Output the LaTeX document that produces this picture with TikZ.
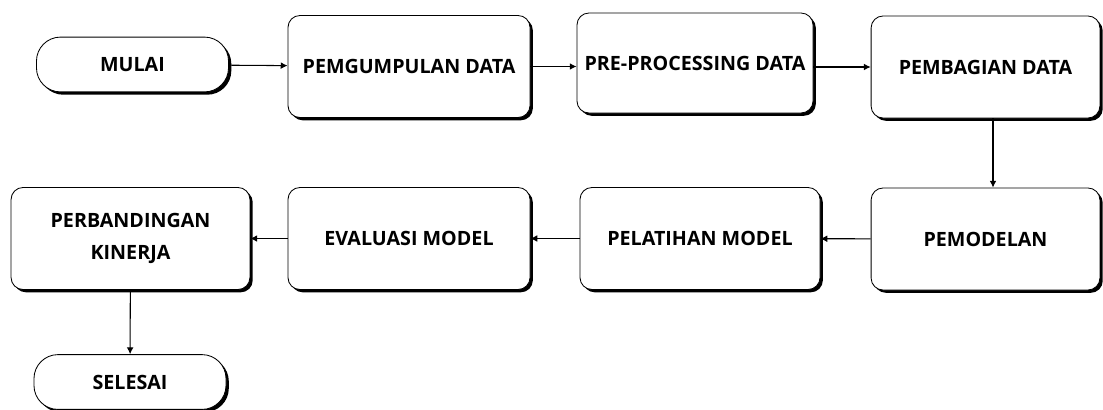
\documentclass[tikz,border=0pt]{standalone}
\usepackage{fontspec}
\setmainfont{Open Sans}
\usepackage{tikz}
\usetikzlibrary{
    shapes.misc,
    shadows,arrows.meta
}

\begin{document}
\begin{tikzpicture}[x=0.025cm, y=-0.025cm,
        prosesbox/.style={draw=black, line width=0.6pt, fill=white, rounded corners=0.3cm,
            minimum width=#1, minimum height=2.55cm, align=center,
            font=\fontsize{14}{23}\selectfont\bfseries,
            drop shadow={shadow xshift=0.07cm, shadow yshift=-0.07cm, fill=black, opacity=1}},
        ujungbox/.style={prosesbox=4.8cm, minimum height=1.37cm, rounded corners=0.6cm},
        panah/.style={-{Latex[length=1.7mm,width=1.7mm]}, line width=0.75pt}]
        \useasboundingbox (0,0) rectangle (1103,409);

        \node[ujungbox] (mulai) at (132.5, 64.5) {MULAI};
        \node[prosesbox=6.05cm] (kumpul) at (409, 66.5) {PEMGUMPULAN DATA};
        \node[prosesbox=5.9cm, minimum height=2.5cm] (prepro) at (695, 63) {PRE-PROCESSING DATA};
        \node[prosesbox=5.72cm] (bagi) at (985.5, 67) {PEMBAGIAN DATA};
        \node[prosesbox=5.72cm] (model) at (985.5, 239) {PEMODELAN};
        \node[prosesbox=6cm] (latih) at (700, 238.5) {PELATIHAN MODEL};
        \node[prosesbox=6.05cm] (evaluasi) at (409, 238.5) {EVALUASI MODEL};
        \node[prosesbox=5.97cm] (banding) at (130.5, 238.5) {PERBANDINGAN\\KINERJA};
        \node[ujungbox] (selesai) at (130, 382) {SELESAI};

        \draw[panah] (mulai) -- (kumpul);
        \draw[panah] (kumpul) -- (kumpul -| prepro.west);
        \draw[panah] (prepro.east |- bagi) -- (bagi);
        \draw[panah] (bagi.south -| 993,0) -- (model.north -| 993,0);
        \draw[panah] (model) -- (latih);
        \draw[panah] (latih) -- (evaluasi);
        \draw[panah] (evaluasi) -- (banding);
        \draw[panah] (banding) -- (selesai);
    \end{tikzpicture}
\end{document}
